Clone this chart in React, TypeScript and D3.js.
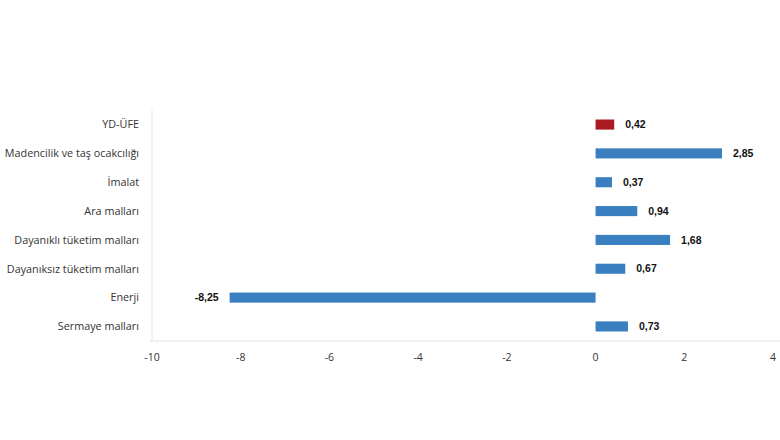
import React, { useEffect, useRef } from 'react';
import * as d3 from 'd3';

const categories = [
  'YD-ÜFE',
  'Madencilik ve taş ocakcılığı',
  'İmalat',
  'Ara malları',
  'Dayanıklı tüketim malları',
  'Dayanıksız tüketim malları',
  'Enerji',
  'Sermaye malları',
];
const values = [0.42, 2.85, 0.37, 0.94, 1.68, 0.67, -8.25, 0.73];
const xTicks = [-10, -8, -6, -4, -2, 0, 2, 4];

const App: React.FC = () => {
  const svgRef = useRef<SVGSVGElement | null>(null);

  useEffect(() => {
    const svg = d3.select(svgRef.current);
    svg.selectAll('*').remove();

    const left = 152, right = 773, top = 110, bottom = 341;

    const x = d3.scaleLinear().domain([-10, 4]).range([left, right]);
    const y = d3.scaleBand()
      .domain(categories)
      .range([top, bottom])
      .paddingInner(0.65)
      .paddingOuter(0.33);

    const data = categories.map((c, i) => ({ name: c, value: values[i] }));

    // frame lines
    svg.append('line')
      .attr('x1', left).attr('x2', left).attr('y1', top).attr('y2', bottom)
      .attr('stroke', '#e3e3e3');
    svg.append('line')
      .attr('x1', left - 2).attr('x2', 780).attr('y1', bottom).attr('y2', bottom)
      .attr('stroke', '#e3e3e3');

    svg.selectAll('.bar')
      .data(data)
      .enter().append('rect')
      .attr('x', d => x(Math.min(0, d.value)))
      .attr('y', d => y(d.name) || 0)
      .attr('width', d => Math.abs(x(d.value) - x(0)))
      .attr('height', y.bandwidth())
      .attr('fill', (d, i) => i === 0 ? '#ab1a22' : '#3a80c0');

    svg.selectAll('.val')
      .data(data)
      .enter().append('text')
      .attr('x', d => d.value >= 0 ? x(d.value) + 11 : x(d.value) - 11)
      .attr('y', d => (y(d.name) || 0) + y.bandwidth() / 2)
      .attr('dy', '0.35em')
      .attr('text-anchor', d => d.value >= 0 ? 'start' : 'end')
      .attr('font-family', 'Liberation Sans, Arial, sans-serif')
      .attr('font-weight', 'bold')
      .attr('font-size', '10.5px')
      .attr('fill', '#111')
      .text(d => d.value.toFixed(2).replace('.', ','));

    svg.selectAll('.cat')
      .data(data)
      .enter().append('text')
      .attr('x', 139)
      .attr('y', d => (y(d.name) || 0) + y.bandwidth() / 2)
      .attr('dy', '0.35em')
      .attr('text-anchor', 'end')
      .attr('font-family', 'Open Sans, sans-serif')
      .attr('font-size', '10.8px')
      .attr('fill', '#333')
      .text(d => d.name);

    svg.selectAll('.tick')
      .data(xTicks)
      .enter().append('text')
      .attr('x', d => x(d))
      .attr('y', 361)
      .attr('text-anchor', 'middle')
      .attr('font-family', 'Open Sans, sans-serif')
      .attr('font-size', '10.5px')
      .attr('fill', '#333')
      .text(d => String(d));
  }, []);

  return (
    <svg
      ref={svgRef}
      width={780}
      height={440}
      style={{ position: 'absolute', left: 0, top: 0, background: '#fff' }}
    />
  );
};

export default App;
